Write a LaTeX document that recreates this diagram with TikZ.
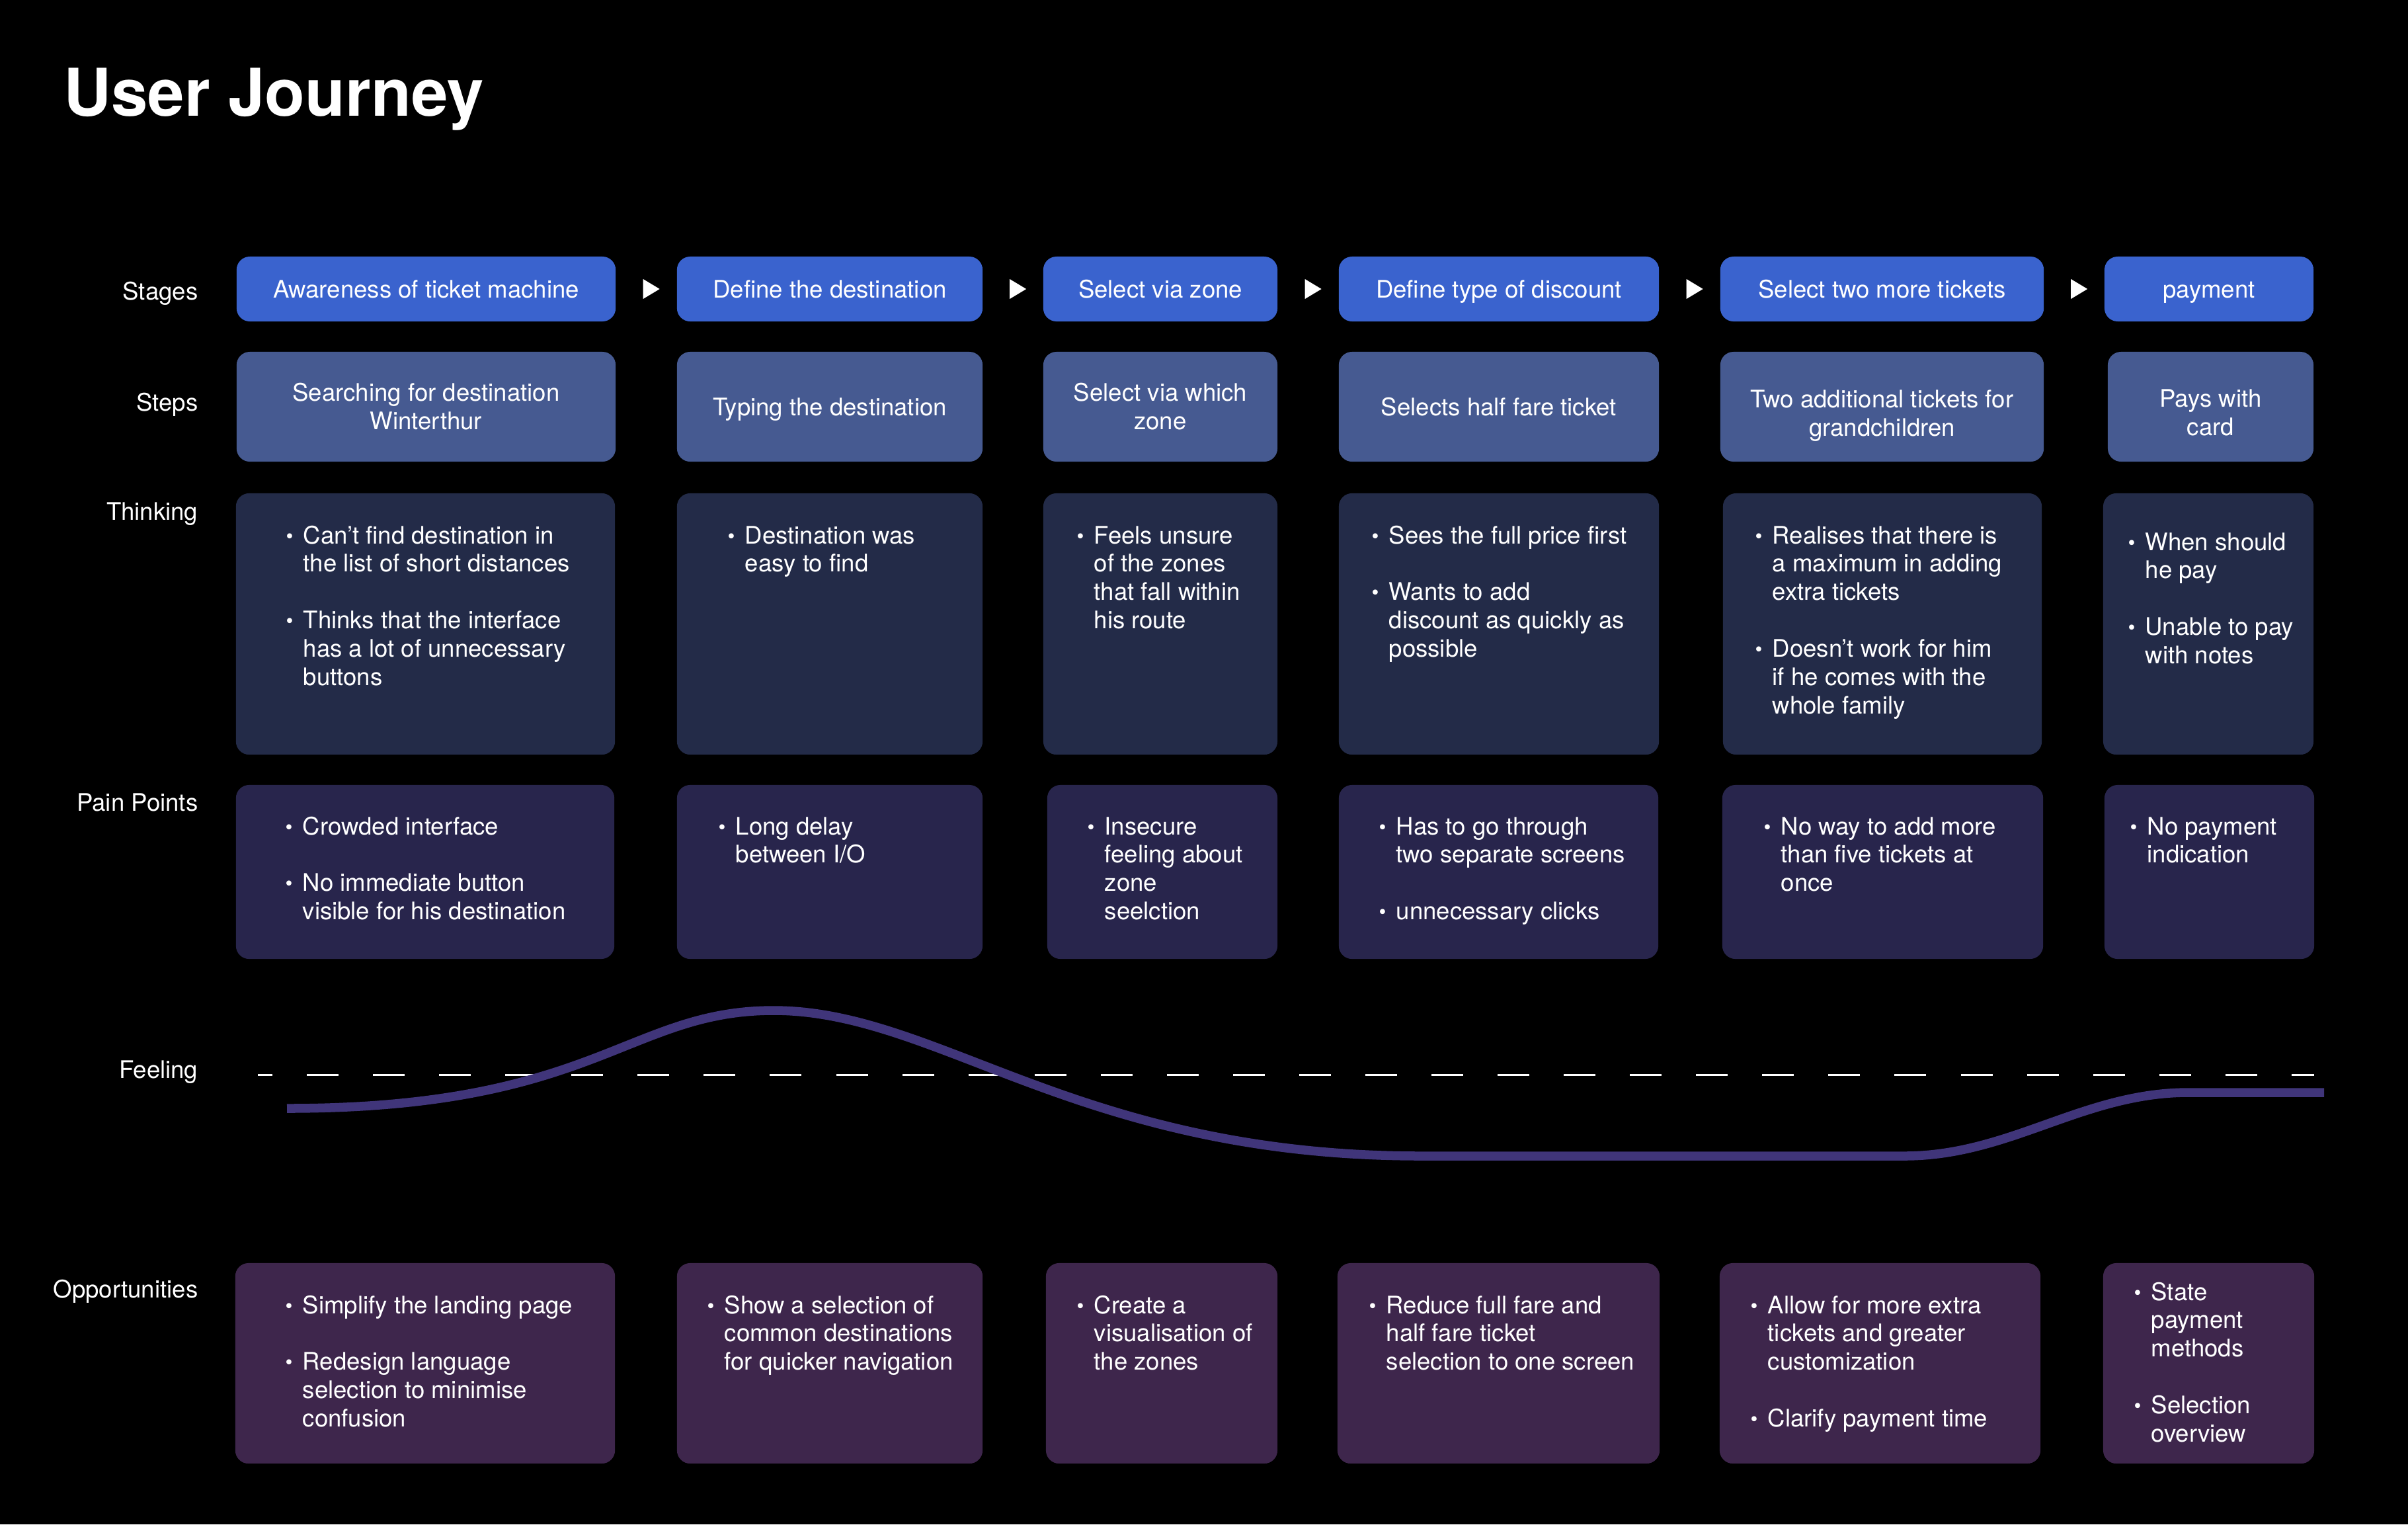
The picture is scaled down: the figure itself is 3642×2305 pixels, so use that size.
\documentclass[tikz,border=0pt]{standalone}
\usepackage{fontspec}
\setmainfont{TeX Gyre Heros}
\usetikzlibrary{shapes.geometric}
\definecolor{stagec}{RGB}{58,99,206}
\definecolor{stepc}{RGB}{70,90,145}
\definecolor{thinkc}{RGB}{35,43,72}
\definecolor{painc}{RGB}{40,37,76}
\definecolor{oppc}{RGB}{62,38,76}
\definecolor{feelc}{RGB}{64,53,122}
\newcommand{\jfont}{\fontsize{10.4}{12.2}\selectfont}
\newcommand{\jb}{\makebox[0.26cm][l]{\raisebox{0.05ex}{\scalebox{0.85}{\textbullet}}}}
\newcommand{\jlist}[1]{\begin{tabular}[t]{@{}l@{}l@{}}#1\end{tabular}}

\begin{document}
\begin{tikzpicture}[x=0.01cm,y=-0.01cm,
    every node/.style={font=\jfont, text=white},
    box/.style={rounded corners=0.2cm, inner sep=0pt},
    stage/.style={box, fill=stagec, minimum height=0.98cm, text height=7.6pt, text depth=0pt},
    stepbox/.style={box, fill=stepc, minimum height=1.66cm, align=center},
    think/.style={box, fill=thinkc, minimum height=3.95cm},
    pain/.style={box, fill=painc, minimum height=2.63cm},
    opp/.style={box, fill=oppc, minimum height=3.03cm},
    txt/.style={anchor=base west, inner sep=0pt},
    rowlabel/.style={anchor=base east, inner sep=0pt},
    tri/.style={isosceles triangle, isosceles triangle stretches, fill=white, inner sep=0pt, minimum width=0.3cm, minimum height=0.25cm}]
    \fill[black] (0,0) rectangle (3642,2305);
    \node[anchor=base west, inner sep=0pt, font=\fontsize{28.3}{34}\selectfont\bfseries] (title) at (96,175) {User Journey};
    % row labels
    \node[rowlabel] (lstages) at (300,453) {Stages};
    \node[rowlabel] (lsteps) at (300,621) {Steps};
    \node[rowlabel] (lthink) at (300,786) {Thinking};
    \node[rowlabel] (lpain) at (300,1226) {Pain Points};
    \node[rowlabel] (lfeel) at (300,1630) {Feeling};
    \node[rowlabel] (lopp) at (300,1962) {Opportunities};
    % stages
    \node[stage, minimum width=5.73cm] (s1) at (644.5,437) {Awareness of ticket machine};
    \node[stage, minimum width=4.62cm] (s2) at (1255,437) {Define the destination};
    \node[stage, minimum width=3.54cm] (s3) at (1755,437) {Select via zone};
    \node[stage, minimum width=4.84cm] (s4) at (2267,437) {Define type of discount};
    \node[stage, minimum width=4.89cm] (s5) at (2846.5,437) {Select two more tickets};
    \node[stage, minimum width=3.16cm] (s6) at (3341,437) {payment};
    \foreach \a/\b [count=\i] in {s1/s2,s2/s3,s3/s4,s4/s5,s5/s6}
        \path (\a.east) -- (\b.west) node[tri, pos=0.54] (a\i) {};
    % steps
    \node[stepbox, minimum width=5.73cm] (p1) at (644.5,615) {Searching for destination\\Winterthur};
    \node[stepbox, minimum width=4.62cm] (p2) at (1255,615) {};
    \node (p2l) at (1255,619) {Typing the destination};
    \node[stepbox, minimum width=3.54cm] (p3) at (1755,615) {Select via which\\zone};
    \node[stepbox, minimum width=4.84cm] (p4) at (2267,615) {Selects half fare ticket};
    \node[stepbox, minimum width=4.89cm] (p5) at (2846.5,615) {};
    \node[align=center] (p5l) at (2846.5,629) {Two additional tickets for\\grandchildren};
    \node[stepbox, minimum width=3.11cm] (p6) at (3343.5,615) {};
    \node[align=center] (p6l) at (3343.5,624) {Pays with\\card};
    % thinking
    \node[think, minimum width=5.73cm] (t1) at (643.5,943.5) {};
    \node[think, minimum width=4.62cm] (t2) at (1255,943.5) {};
    \node[think, minimum width=3.54cm] (t3) at (1755,943.5) {};
    \node[think, minimum width=4.84cm] (t4) at (2267,943.5) {};
    \node[think, minimum width=4.82cm] (t5) at (2847,943.5) {};
    \node[think, minimum width=3.18cm] (t6) at (3340,943.5) {};
    \node[txt] (t1l) at (432,822) {\jlist{\jb & Can't find destination in\\ & the list of short distances\\ & \\ \jb & Thinks that the interface\\ & has a lot of unnecessary\\ & buttons}};
    \node[txt] (t2l) at (1100,822) {\jlist{\jb & Destination was\\ & easy to find}};
    \node[txt] (t3l) at (1628,822) {\jlist{\jb & Feels unsure\\ & of the zones\\ & that fall within\\ & his route}};
    \node[txt] (t4l) at (2074,822) {\jlist{\jb & Sees the full price first\\ & \\ \jb & Wants to add\\ & discount as quickly as\\ & possible}};
    \node[txt] (t5l) at (2654,822) {\jlist{\jb & Realises that there is\\ & a maximum in adding\\ & extra tickets\\ & \\ \jb & Doesn't work for him\\ & if he comes with the\\ & whole family}};
    \node[txt] (t6l) at (3218,832) {\jlist{\jb & When should\\ & he pay\\ & \\ \jb & Unable to pay\\ & with notes}};
    % pain points
    \node[pain, minimum width=5.72cm] (n1) at (643,1318.5) {};
    \node[pain, minimum width=4.62cm] (n2) at (1255,1318.5) {};
    \node[pain, minimum width=3.48cm] (n3) at (1758,1318.5) {};
    \node[pain, minimum width=4.83cm] (n4) at (2266.5,1318.5) {};
    \node[pain, minimum width=4.85cm] (n5) at (2847.5,1318.5) {};
    \node[pain, minimum width=3.17cm] (n6) at (3341.5,1318.5) {};
    \node[txt] (n1l) at (431,1262) {\jlist{\jb & Crowded interface\\ & \\ \jb & No immediate button\\ & visible for his destination}};
    \node[txt] (n2l) at (1086,1262) {\jlist{\jb & Long delay\\ & between I/O}};
    \node[txt] (n3l) at (1644,1262) {\jlist{\jb & Insecure\\ & feeling about\\ & zone\\ & seelction}};
    \node[txt] (n4l) at (2085,1262) {\jlist{\jb & Has to go through\\ & two separate screens\\ & \\ \jb & unnecessary clicks}};
    \node[txt] (n5l) at (2667,1262) {\jlist{\jb & No way to add more\\ & than five tickets at\\ & once}};
    \node[txt] (n6l) at (3221,1262) {\jlist{\jb & No payment\\ & indication}};
    % feeling
    \draw[white, line width=0.03cm, dash pattern=on 0.48cm off 0.52cm, dash phase=0.26cm] (390,1625) -- (3500,1625);
    \draw[feelc, line width=0.135cm] (434,1676) .. controls (900,1676) and (950,1528) .. (1170,1528)
        .. controls (1420,1528) and (1630,1748) .. (2150,1748) -- (2880,1748)
        .. controls (3040,1748) and (3150,1652) .. (3310,1652) -- (3515,1652);
    % opportunities
    \node[opp, minimum width=5.74cm] (o1) at (643,2061.5) {};
    \node[opp, minimum width=4.62cm] (o2) at (1255,2061.5) {};
    \node[opp, minimum width=3.50cm] (o3) at (1757,2061.5) {};
    \node[opp, minimum width=4.87cm] (o4) at (2266.5,2061.5) {};
    \node[opp, minimum width=4.85cm] (o5) at (2843.5,2061.5) {};
    \node[opp, minimum width=3.19cm] (o6) at (3340.5,2061.5) {};
    \node[txt] (o1l) at (431,1986) {\jlist{\jb & Simplify the landing page\\ & \\ \jb & Redesign language\\ & selection to minimise\\ & confusion}};
    \node[txt] (o2l) at (1069,1986) {\jlist{\jb & Show a selection of\\ & common destinations\\ & for quicker navigation}};
    \node[txt] (o3l) at (1628,1986) {\jlist{\jb & Create a\\ & visualisation of\\ & the zones}};
    \node[txt] (o4l) at (2070,1986) {\jlist{\jb & Reduce full fare and\\ & half fare ticket\\ & selection to one screen}};
    \node[txt] (o5l) at (2647,1986) {\jlist{\jb & Allow for more extra\\ & tickets and greater\\ & customization\\ & \\ \jb & Clarify payment time}};
    \node[txt] (o6l) at (3227,1966) {\jlist{\jb & State\\ & payment\\ & methods\\ & \\ \jb & Selection\\ & overview}};
\end{tikzpicture}
\end{document}
